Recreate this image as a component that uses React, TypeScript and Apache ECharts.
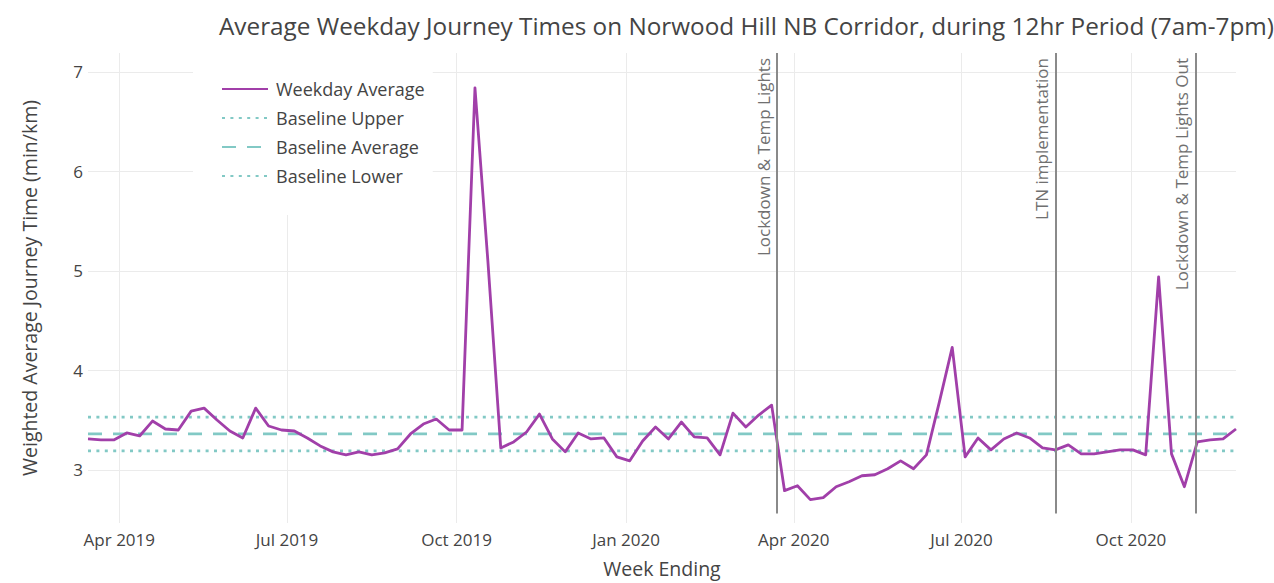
import React, { useEffect, useRef } from 'react';
import * as echarts from 'echarts';

const weekEnding = [
  '2019-03-15', '2019-03-22', '2019-03-29', '2019-04-05', '2019-04-12', '2019-04-19', '2019-04-26',
  '2019-05-03', '2019-05-10', '2019-05-17', '2019-05-24', '2019-05-31', '2019-06-07', '2019-06-14',
  '2019-06-21', '2019-06-28', '2019-07-05', '2019-07-12', '2019-07-19', '2019-07-26', '2019-08-02',
  '2019-08-09', '2019-08-16', '2019-08-23', '2019-08-30', '2019-09-06', '2019-09-13', '2019-09-20',
  '2019-09-27', '2019-10-04', '2019-10-11', '2019-10-18', '2019-10-25', '2019-11-01', '2019-11-08',
  '2019-11-15', '2019-11-22', '2019-11-29', '2019-12-06', '2019-12-13', '2019-12-20', '2019-12-27',
  '2020-01-03', '2020-01-10', '2020-01-17', '2020-01-24', '2020-01-31', '2020-02-07', '2020-02-14',
  '2020-02-21', '2020-02-28', '2020-03-06', '2020-03-13', '2020-03-20', '2020-03-27', '2020-04-03',
  '2020-04-10', '2020-04-17', '2020-04-24', '2020-05-01', '2020-05-08', '2020-05-15', '2020-05-22',
  '2020-05-29', '2020-06-05', '2020-06-12', '2020-06-19', '2020-06-26', '2020-07-03', '2020-07-10',
  '2020-07-17', '2020-07-24', '2020-07-31', '2020-08-07', '2020-08-14', '2020-08-21', '2020-08-28',
  '2020-09-04', '2020-09-11', '2020-09-18', '2020-09-25', '2020-10-02', '2020-10-09', '2020-10-16',
  '2020-10-23', '2020-10-30', '2020-11-06', '2020-11-13', '2020-11-20', '2020-11-27',
];

const weekdayAverage = [
  3.31, 3.30, 3.30, 3.37, 3.34, 3.49, 3.41, 3.40, 3.59, 3.62,
  3.50, 3.39, 3.32, 3.62, 3.44, 3.40, 3.39, 3.32, 3.24, 3.18,
  3.15, 3.18, 3.15, 3.17, 3.21, 3.36, 3.46, 3.51, 3.40, 3.40,
  6.84, 5.10, 3.22, 3.28, 3.38, 3.56, 3.31, 3.18, 3.37, 3.31,
  3.32, 3.13, 3.09, 3.29, 3.43, 3.31, 3.48, 3.33, 3.32, 3.15,
  3.57, 3.43, 3.55, 3.65, 2.79, 2.84, 2.70, 2.72, 2.83, 2.88,
  2.94, 2.95, 3.01, 3.09, 3.01, 3.15, 3.68, 4.23, 3.13, 3.32,
  3.20, 3.31, 3.37, 3.32, 3.22, 3.20, 3.25, 3.16, 3.16, 3.18,
  3.20, 3.20, 3.15, 4.94, 3.16, 2.83, 3.28, 3.30, 3.31, 3.41,
];

const baselineUpper = 3.53;
const baselineAverage = 3.36;
const baselineLower = 3.19;

const eventDates = ['2020-03-23', '2020-08-21', '2020-11-05'];
const eventLabels = ['Lockdown & Temp Lights', 'LTN implementation', 'Lockdown & Temp Lights Out'];

const seriesNames = ['Weekday Average', 'Baseline Upper', 'Baseline Average', 'Baseline Lower'];
const monthNames = ['Jan', 'Feb', 'Mar', 'Apr', 'May', 'Jun', 'Jul', 'Aug', 'Sep', 'Oct', 'Nov', 'Dec'];

const yMin = 2.465;
const yMax = 7.19;
const eventLineBottom = 2.56;

const FONT = '"Open Sans", "Noto Sans", sans-serif';
const PURPLE = '#a13fa9';
const TEAL = '#82c9c5';

const ts = (s: string) => echarts.time.parse(s).getTime();

export default function App() {
  const ref = useRef<HTMLDivElement>(null);

  useEffect(() => {
    document.body.style.margin = '0';
    if (!ref.current) return;
    const chart = echarts.init(ref.current, undefined, { renderer: 'svg' });
    const xs = weekEnding.map(ts);
    const first = xs[0];
    const last = xs[xs.length - 1];

    const baseline = (name: string, value: number, type: any) => ({
      name,
      type: 'line',
      data: [[first, value], [last, value]],
      symbol: 'none',
      silent: true,
      z: 3,
      lineStyle: { color: TEAL, width: 2.8, type, cap: 'butt' },
      itemStyle: { color: TEAL },
    });

    chart.setOption({
      animation: false,
      title: {
        text: 'Average Weekday Journey Times on Norwood Hill NB Corridor, during 12hr Period (7am-7pm)',
        left: 214,
        top: 8,
        textStyle: { fontFamily: FONT, fontSize: 24.3, fontWeight: 'normal', color: '#444' },
      },
      grid: { left: 88, right: 38, top: 53, bottom: 53, containLabel: false },
      legend: {
        orient: 'vertical',
        left: 193,
        top: 50,
        padding: [29, 8, 29, 28],
        backgroundColor: '#ffffff',
        itemWidth: 46,
        itemHeight: 14,
        itemGap: 9,
        itemStyle: { opacity: 0 },
        textStyle: { fontFamily: FONT, fontSize: 18, color: '#444', lineHeight: 20, padding: [0, 0, 0, 3] },
        data: seriesNames,
      },
      xAxis: {
        type: 'time',
        min: first,
        max: last,
        name: 'Week Ending',
        nameLocation: 'middle',
        nameGap: 35,
        nameTextStyle: { fontFamily: FONT, fontSize: 19.5, color: '#444' },
        axisLine: { show: false },
        axisTick: { show: false },
        axisLabel: {
          fontFamily: FONT,
          fontSize: 17,
          color: '#444',
          margin: 8,
          showMinLabel: false,
          showMaxLabel: false,
          formatter: (v: number) => {
            const d = new Date(v);
            return monthNames[d.getMonth()] + ' ' + d.getFullYear();
          },
        },
        splitLine: { show: true, showMinLine: false, showMaxLine: false, lineStyle: { color: '#ebebeb', width: 1 } },
      },
      yAxis: {
        type: 'value',
        min: yMin,
        max: yMax,
        name: 'Weighted Average Journey Time (min/km)',
        nameLocation: 'middle',
        nameGap: 49,
        nameTextStyle: { fontFamily: FONT, fontSize: 19.5, color: '#444' },
        axisLine: { show: false },
        axisTick: { show: false },
        axisLabel: {
          fontFamily: FONT,
          fontSize: 17,
          color: '#444',
          margin: 5,
          showMinLabel: false,
          showMaxLabel: false,
        },
        splitLine: { show: true, showMinLine: false, showMaxLine: false, lineStyle: { color: '#ebebeb', width: 1 } },
      },
      series: [
        {
          name: seriesNames[0],
          type: 'line',
          data: xs.map((x, i) => [x, weekdayAverage[i]]),
          symbol: 'none',
          z: 4,
          lineStyle: { color: PURPLE, width: 2.8, join: 'round' },
          itemStyle: { color: PURPLE },
          markLine: {
            symbol: ['none', 'none'],
            silent: true,
            lineStyle: { color: '#8a8a8a', width: 2, type: 'solid' },
            label: {
              show: true,
              position: 'insideEndTop',
              formatter: '{b}',
              fontFamily: FONT,
              fontSize: 17,
              color: '#707070',
              distance: 5,
            },
            emphasis: { disabled: true },
            data: eventDates.map((d, i) => [
              { coord: [ts(d), eventLineBottom], name: eventLabels[i] },
              { coord: [ts(d), yMax] },
            ]),
          },
        },
        baseline(seriesNames[1], baselineUpper, [3, 5.4]),
        baseline(seriesNames[2], baselineAverage, [14, 11]),
        baseline(seriesNames[3], baselineLower, [3, 5.4]),
      ],
    });

    return () => chart.dispose();
  }, []);

  return <div ref={ref} style={{ width: 1274, height: 583 }} />;
}
